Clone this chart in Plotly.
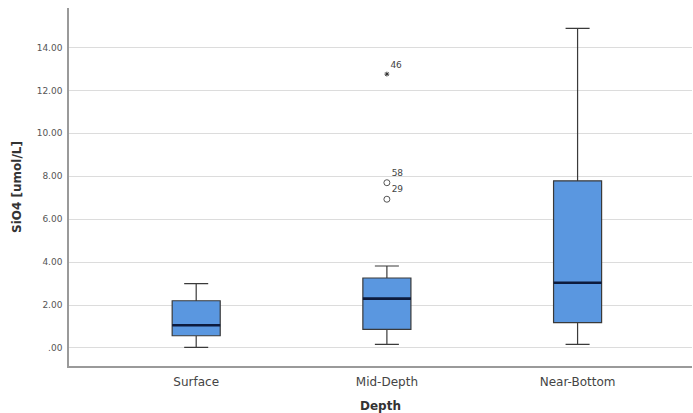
import plotly.graph_objects as go

# Box summary statistics of SiO4 by depth layer
categories = ["Surface", "Mid-Depth", "Near-Bottom"]
lower_whisker = [0.03, 0.17, 0.17]
q1 = [0.57, 0.87, 1.18]
median = [1.06, 2.30, 3.04]
q3 = [2.20, 3.26, 7.79]
upper_whisker = [3.00, 3.82, 14.89]

# Flagged cases (Mid-Depth)
outlier_ids = ["58", "29"]
outlier_vals = [7.70, 6.93]
extreme_ids = ["46"]
extreme_vals = [12.76]

y_ticks = [0, 2, 4, 6, 8, 10, 12, 14]
y_ticktext = [".00", "2.00", "4.00", "6.00", "8.00", "10.00", "12.00", "14.00"]

pos = list(range(len(categories)))
box_w = 0.252
half = box_w / 2

fig = go.Figure()

fig.add_trace(go.Box(
    x=pos,
    q1=q1, median=median, q3=q3,
    lowerfence=lower_whisker, upperfence=upper_whisker,
    width=box_w,
    whiskerwidth=0.5,
    fillcolor="#5a97e0",
    line=dict(color="#3a3a3a", width=1.2),
    boxpoints=False,
    hoverinfo="skip",
    showlegend=False,
))

# Heavier median bars drawn over the boxes
for i, m in enumerate(median):
    fig.add_trace(go.Scatter(
        x=[pos[i] - half, pos[i] + half], y=[m, m],
        mode="lines", line=dict(color="#0d1b3d", width=2.6),
        hoverinfo="skip", showlegend=False,
    ))

mid = categories.index("Mid-Depth")
fig.add_trace(go.Scatter(
    x=[pos[mid]] * len(outlier_vals), y=outlier_vals,
    mode="markers+text",
    marker=dict(symbol="circle-open", size=6, color="#555555", line=dict(width=1)),
    text=outlier_ids, textposition="top right",
    textfont=dict(family="DejaVu Sans", size=9, color="#444444"),
    hoverinfo="skip", showlegend=False,
))
fig.add_trace(go.Scatter(
    x=[pos[mid]] * len(extreme_vals), y=extreme_vals,
    mode="markers+text",
    marker=dict(symbol="asterisk", size=4, color="#333333", line=dict(width=1, color="#333333")),
    text=extreme_ids, textposition="top right",
    textfont=dict(family="DejaVu Sans", size=9, color="#444444"),
    hoverinfo="skip", showlegend=False,
))

fig.update_layout(
    width=693, height=413,
    margin=dict(l=69, r=1, t=8, b=47),
    paper_bgcolor="white", plot_bgcolor="white",
    font=dict(family="DejaVu Sans", color="#444444"),
    xaxis=dict(
        range=[-0.667, 2.6],
        tickmode="array", tickvals=pos, ticktext=categories,
        tickfont=dict(size=12, color="#444444"),
        showgrid=False, zeroline=False,
        showline=True, linecolor="#9a9a9a", linewidth=1.5,
        ticks="", ticklabelstandoff=4,
        title=dict(text="<b>Depth</b>", font=dict(size=12, color="#333333"), standoff=14),
    ),
    yaxis=dict(
        range=[-0.84, 15.84],
        tickmode="array", tickvals=y_ticks, ticktext=y_ticktext,
        tickfont=dict(size=9, color="#555555"),
        showgrid=True, gridcolor="#dcdcdc", gridwidth=1.2,
        zeroline=False,
        showline=True, linecolor="#9a9a9a", linewidth=1.5,
        ticks="", ticklabelstandoff=3,
        title=dict(text="<b>SiO4 [umol/L]</b>", font=dict(size=12, color="#333333"), standoff=12),
    ),
)

fig.write_html("out.html")
